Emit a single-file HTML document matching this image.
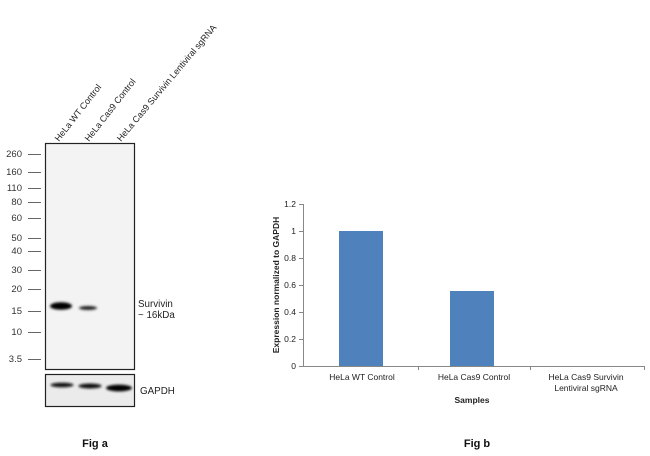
<!DOCTYPE html>
<html><head><meta charset="utf-8"><style>
body{margin:0;background:#fff;}
svg{display:block;font-family:"Liberation Sans",Arial,sans-serif;}
</style></head><body>
<svg width="650" height="456" viewBox="0 0 650 456">
<defs>
<filter id="bl" x="-50%" y="-200%" width="200%" height="500%"><feGaussianBlur stdDeviation="1.2"/></filter>
</defs>
<g font-size="9" fill="#222">
<text transform="translate(59,142) rotate(-52)">HeLa WT Control</text>
<text transform="translate(89,142) rotate(-52)">HeLa Cas9 Control</text>
<text transform="translate(121,142) rotate(-50)">HeLa Cas9 Survivin Lentiviral sgRNA</text>
</g>
<g font-size="9.5" fill="#333" text-anchor="end">
<text x="22" y="157">260</text><text x="22" y="175">160</text><text x="22" y="191">110</text>
<text x="22" y="205">80</text><text x="22" y="221">60</text><text x="22" y="241">50</text>
<text x="22" y="254">40</text><text x="22" y="273">30</text><text x="22" y="292">20</text>
<text x="22" y="314">15</text><text x="22" y="335">10</text><text x="22" y="362">3.5</text>
</g>
<g stroke="#666" stroke-width="1">
<line x1="28" x2="41" y1="154.5" y2="154.5"/><line x1="28" x2="41" y1="172.5" y2="172.5"/>
<line x1="28" x2="41" y1="188.5" y2="188.5"/><line x1="28" x2="41" y1="202.5" y2="202.5"/>
<line x1="28" x2="41" y1="218.5" y2="218.5"/><line x1="28" x2="41" y1="238.5" y2="238.5"/>
<line x1="28" x2="41" y1="251.5" y2="251.5"/><line x1="28" x2="41" y1="270.5" y2="270.5"/>
<line x1="28" x2="41" y1="289.5" y2="289.5"/><line x1="28" x2="41" y1="311.5" y2="311.5"/>
<line x1="28" x2="41" y1="332.5" y2="332.5"/><line x1="28" x2="41" y1="359.5" y2="359.5"/>
</g>
<rect x="45.5" y="143.5" width="89" height="226" fill="#f3f3f3" stroke="#222" stroke-width="1.2"/>
<rect x="45.5" y="374.5" width="89" height="32" fill="#ebebeb" stroke="#222" stroke-width="1.2"/>
<ellipse cx="61" cy="306" rx="11" ry="3.8" fill="#000" filter="url(#bl)"/>
<ellipse cx="88" cy="308" rx="9" ry="2" fill="#222" filter="url(#bl)"/>
<ellipse cx="62" cy="385" rx="11.5" ry="2.3" fill="#111" filter="url(#bl)"/>
<ellipse cx="90" cy="386" rx="11.5" ry="2.5" fill="#111" filter="url(#bl)"/>
<ellipse cx="119" cy="388" rx="13" ry="3.4" fill="#000" filter="url(#bl)"/>
<g font-size="9.8" fill="#222">
<text x="138" y="307">Survivin</text><text x="138" y="318">~ 16kDa</text>
<text x="140" y="394">GAPDH</text>
</g>
<g stroke="#888" stroke-width="1">
<line x1="303.5" x2="303.5" y1="204" y2="366"/>
<line x1="303" x2="645" y1="366.5" y2="366.5"/>
<line x1="299" x2="303" y1="204.5" y2="204.5"/><line x1="299" x2="303" y1="231.5" y2="231.5"/>
<line x1="299" x2="303" y1="258.5" y2="258.5"/><line x1="299" x2="303" y1="285.5" y2="285.5"/>
<line x1="299" x2="303" y1="312.5" y2="312.5"/><line x1="299" x2="303" y1="339.5" y2="339.5"/>
<line x1="299" x2="303" y1="366.5" y2="366.5"/>
<line x1="418.5" x2="418.5" y1="366" y2="370"/><line x1="530.5" x2="530.5" y1="366" y2="370"/><line x1="644.5" x2="644.5" y1="366" y2="370"/>
</g>
<rect x="339" y="231" width="44" height="135" fill="#4f81bd"/>
<rect x="450" y="291" width="44" height="75" fill="#4f81bd"/>
<g font-size="8.5" fill="#222" text-anchor="end">
<text x="296" y="207">1.2</text><text x="296" y="234">1</text><text x="296" y="261">0.8</text>
<text x="296" y="288">0.6</text><text x="296" y="315">0.4</text><text x="296" y="342">0.2</text><text x="296" y="369">0</text>
</g>
<g font-size="8.5" fill="#222" text-anchor="middle">
<text x="362" y="380">HeLa WT Control</text>
<text x="474" y="380">HeLa Cas9 Control</text>
<text x="586" y="380">HeLa Cas9 Survivin</text>
<text x="586" y="391">Lentiviral sgRNA</text>
<text x="472" y="403" font-weight="bold">Samples</text>
<text transform="translate(279,285) rotate(-90)" font-weight="bold">Expression  normalized to GAPDH</text>
</g>
<g font-size="11" font-weight="bold" fill="#111" text-anchor="middle">
<text x="95" y="447">Fig a</text><text x="477" y="447">Fig b</text>
</g>
</svg>
</body></html>
